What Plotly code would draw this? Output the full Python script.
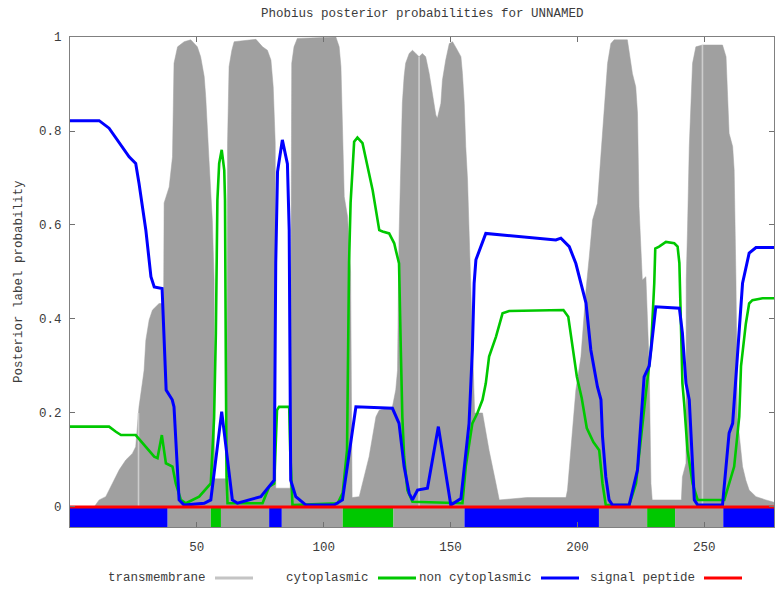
import numpy as np
import plotly.graph_objects as go

# ---- posterior probability profiles (residue position, probability) ----
tm_x = [0, 9.5, 11.5, 14.1, 16.7, 19.4, 22.0, 24.6, 25.9, 27.2, 28.5, 29.2, 29.9, 31.2, 32.5,
        33.8, 35.1, 36.9, 37.1, 39.1, 40.4, 41.0, 42.4, 45.0, 47.6, 50.2, 51.5, 52.9, 53.5,
        54.8, 56.1, 56.8, 57.0, 61.8, 62.1, 62.7, 63.8, 64.7, 73.3, 75.9, 77.8, 79.2, 80.1,
        80.9, 81.1, 86.8, 87.0, 87.4, 88.3, 89.6, 104.8, 106.1, 106.8, 107.4, 108.1, 109.4,
        110.6, 111.2, 114.0, 117.9, 120.6, 121.9, 127.1, 128.4, 129.1, 129.7, 131.0, 131.7,
        132.3, 133.7, 135.0, 136.3, 137.6, 138.9, 140.2, 141.6, 142.9, 144.2, 144.8, 146.2,
        146.8, 148.1, 149.5, 150.8, 152.7, 154.1, 154.7, 155.4, 156.0, 156.7, 157.3, 159.3,
        159.5, 162.6, 165.2, 167.9, 169.2, 180.0, 195.5, 196.1, 197.5, 199.4, 201.4, 203.4,
        204.7, 206.0, 207.9, 209.3, 210.6, 211.9, 213.2, 214.5, 219.7, 220.4, 221.7, 223.0,
        223.7, 224.3, 225.6, 227.0, 228.3, 229.0, 229.5, 241.0, 241.4, 242.8, 242.9, 243.4,
        244.1, 245.4, 246.7, 249.3, 257.2, 258.6, 259.2, 259.8, 261.2, 261.8, 262.5, 263.1,
        265.1, 266.4, 267.7, 270.4, 274.3, 277.5]
tm_y = [0, 0, 0.015, 0.022, 0.05, 0.079, 0.1, 0.114, 0.128, 0.213, 0.263, 0.291, 0.355, 0.398,
        0.419, 0.426, 0.433, 0.433, 0.647, 0.681, 0.745, 0.944, 0.979, 0.99, 0.994, 0.979,
        0.958, 0.916, 0.873, 0.738, 0.61, 0.483, 0.06, 0.06, 0.774, 0.937, 0.972, 0.99, 0.995,
        0.979, 0.972, 0.951, 0.894, 0.774, 0.04, 0.04, 0.483, 0.944, 0.979, 0.997, 1.0, 0.979,
        0.937, 0.802, 0.66, 0.618, 0.5, 0.02, 0.022, 0.107, 0.192, 0.206, 0.213, 0.249, 0.291,
        0.575, 0.859, 0.916, 0.944, 0.965, 0.972, 0.965, 0.958, 0.965, 0.958, 0.922, 0.873,
        0.834, 0.827, 0.859, 0.908, 0.951, 0.986, 0.99, 0.972, 0.958, 0.922, 0.859, 0.767,
        0.696, 0.589, 0.277, 0.2, 0.2, 0.12, 0.05, 0.015, 0.02, 0.02, 0.036, 0.12, 0.249,
        0.32, 0.462, 0.533, 0.611, 0.646, 0.745, 0.838, 0.944, 0.986, 0.994, 0.994, 0.972,
        0.922, 0.894, 0.838, 0.639, 0.483, 0.49, 0.3, 0.05, 0.015, 0.015, 0.064, 0.093, 0.483,
        0.589, 0.767, 0.944, 0.979, 0.983, 0.983, 0.958, 0.873, 0.795, 0.767, 0.717, 0.483,
        0.19, 0.086, 0.057, 0.036, 0.022, 0.015, 0.01]

cyto_x = [0, 15.4, 18.1, 20.1, 25.9, 29.9, 33.2, 34.5, 36.2, 37.8, 40.4, 41.7, 43.7, 45.7,
          50.9, 55.5, 56.8, 57.5, 58.1, 58.8, 59.8, 60.8, 61.1, 61.4, 61.7, 62.1, 75.9, 78.5,
          80.5, 81.6, 82.4, 86.4, 86.8, 87.7, 105.5, 107.5, 109.2, 110.0, 110.6, 112.0, 113.3,
          115.3, 117.3, 119.3, 121.9, 123.2, 125.8, 127.8, 128.4, 129.7, 130.4, 131.0, 131.7,
          133.0, 135.0, 154.7, 156.0, 158.6, 160.6, 162.6, 163.9, 165.2, 167.9, 170.5, 173.1,
          194.5, 196.4, 198.1, 199.8, 201.7, 203.7, 206.3, 208.6, 209.9, 211.2, 220.4, 223.1,
          227.0, 229.0, 230.3, 230.7, 232.2, 234.9, 238.2, 239.5, 240.2, 240.8, 241.4, 242.1,
          243.4, 245.4, 247.4, 257.9, 261.8, 263.8, 264.5, 266.4, 267.7, 269.0, 273.0, 277.5]
cyto_y = [0.171, 0.171, 0.16, 0.153, 0.153, 0.128, 0.107, 0.104, 0.153, 0.093, 0.086, 0.05,
          0.015, 0.008, 0.022, 0.05, 0.19, 0.37, 0.653, 0.731, 0.76, 0.717, 0.653, 0.334, 0.064,
          0.008, 0.008, 0.043, 0.05, 0.206, 0.213, 0.213, 0.12, 0.004, 0.008, 0.03, 0.121, 0.519,
          0.647, 0.777, 0.786, 0.774, 0.724, 0.674, 0.589, 0.586, 0.582, 0.561, 0.547, 0.518,
          0.334, 0.192, 0.107, 0.036, 0.011, 0.008, 0.086, 0.178, 0.2, 0.228, 0.263, 0.32, 0.362,
          0.412, 0.417, 0.419, 0.405, 0.345, 0.277, 0.232, 0.168, 0.138, 0.121, 0.05, 0.004,
          0.004, 0.05, 0.242, 0.334, 0.476, 0.55, 0.554, 0.564, 0.561, 0.554, 0.519, 0.405,
          0.263, 0.22, 0.121, 0.05, 0.015, 0.015, 0.086, 0.192, 0.3, 0.39, 0.433, 0.44, 0.444,
          0.444]

noncyto_x = [0, 11.5, 15.4, 18.1, 20.7, 23.3, 25.9, 27.2, 29.9, 31.9, 33.2, 35.2, 36.3, 37.9,
             40.3, 41.0, 43.0, 45.0, 52.9, 55.5, 59.8, 64.0, 66.0, 75.2, 78.5, 80.5, 81.1, 81.8,
             83.7, 85.7, 86.4, 87.0, 89.0, 93.0, 104.1, 107.4, 112.7, 127.1, 129.7, 131.7, 133.7,
             135.0, 137.0, 140.9, 145.2, 150.1, 154.1, 157.3, 158.6, 159.3, 160.0, 162.6, 163.9,
             191.5, 193.5, 196.8, 199.4, 201.4, 203.4, 205.3, 207.9, 209.3, 209.9, 211.2, 212.5,
             213.8, 220.4, 223.7, 226.3, 228.3, 229.6, 230.9, 240.2, 241.4, 242.8, 244.1, 246.1,
             247.4, 257.2, 259.8, 261.2, 263.1, 265.1, 267.7, 270.4, 277.5]
noncyto_y = [0.822, 0.822, 0.806, 0.785, 0.764, 0.745, 0.731, 0.689, 0.589, 0.49, 0.468, 0.465,
             0.465, 0.249, 0.228, 0.213, 0.015, 0.004, 0.008, 0.015, 0.203, 0.015, 0.008, 0.022,
             0.043, 0.057, 0.519, 0.713, 0.781, 0.73, 0.589, 0.057, 0.022, 0.004, 0.004, 0.015,
             0.213, 0.21, 0.178, 0.086, 0.029, 0.015, 0.036, 0.04, 0.171, 0.004, 0.018, 0.178,
             0.334, 0.476, 0.526, 0.565, 0.582, 0.568, 0.572, 0.554, 0.518, 0.476, 0.434, 0.334,
             0.256, 0.228, 0.15, 0.064, 0.015, 0.004, 0.004, 0.079, 0.277, 0.3, 0.37, 0.426,
             0.423, 0.37, 0.263, 0.228, 0.015, 0.004, 0.004, 0.157, 0.178, 0.334, 0.476, 0.54,
             0.552, 0.552]

signal_x = [0, 277.5]
signal_y = [0, 0]

# ---- predicted topology (segment boundaries along the sequence) ----
seg_start = [0, 38.5, 55.5, 59.5, 78.5, 83.5, 107.5, 127.5, 155.5, 208.5, 227.5, 238.5, 257.5]
seg_end = [38.5, 55.5, 59.5, 78.5, 83.5, 107.5, 127.5, 155.5, 208.5, 227.5, 238.5, 257.5, 277.5]
seg_class = ["non cytoplasmic", "transmembrane", "cytoplasmic", "transmembrane",
             "non cytoplasmic", "transmembrane", "cytoplasmic", "transmembrane",
             "non cytoplasmic", "transmembrane", "cytoplasmic", "transmembrane",
             "non cytoplasmic"]

# light seams in the transmembrane fill
seam_x = [27.0, 137.6, 249.3]

x_ticks = [50, 100, 150, 200, 250]
y_ticks = [0, 0.2, 0.4, 0.6, 0.8, 1]

legend_names = ["transmembrane", "cytoplasmic", "non cytoplasmic", "signal peptide"]

GRAY = "#a0a0a0"
GREEN = "#00c800"
BLUE = "#0000ff"
RED = "#ff0000"
class_color = {"transmembrane": GRAY, "cytoplasmic": GREEN,
               "non cytoplasmic": BLUE, "signal peptide": RED}
legend_line_color = {"transmembrane": "#c4c4c4", "cytoplasmic": GREEN,
                     "non cytoplasmic": BLUE, "signal peptide": RED}

X_MAX = 277.5
Y_MIN = -0.0426
FONT = "Liberation Mono"
TXT = "#3c3c3c"

fig = go.Figure()

# transmembrane posterior as a grey filled area
fig.add_trace(go.Scatter(x=tm_x, y=tm_y, mode="lines", fill="tozeroy",
                         fillcolor=GRAY, line=dict(color=GRAY, width=0.5),
                         name="transmembrane", showlegend=False, hoverinfo="skip"))

# seams: thin light vertical lines up to the transmembrane height
seam_h = np.interp(seam_x, tm_x, tm_y)
sx, sy = [], []
for xv, hv in zip(seam_x, seam_h):
    sx += [xv, xv, None]
    sy += [0, hv, None]
fig.add_trace(go.Scatter(x=sx, y=sy, mode="lines", line=dict(color="#cdcdcd", width=1.6),
                         showlegend=False, hoverinfo="skip"))

# topology strip below zero
for s, e, c in zip(seg_start, seg_end, seg_class):
    fig.add_trace(go.Scatter(x=[s, e, e, s, s], y=[Y_MIN, Y_MIN, 0, 0, Y_MIN],
                             mode="lines", fill="toself", fillcolor=class_color[c],
                             line=dict(width=0, color=class_color[c]),
                             showlegend=False, hoverinfo="skip"))

fig.add_trace(go.Scatter(x=cyto_x, y=cyto_y, mode="lines", name="cytoplasmic",
                         line=dict(color=GREEN, width=2.6), showlegend=False))
fig.add_trace(go.Scatter(x=noncyto_x, y=noncyto_y, mode="lines", name="non cytoplasmic",
                         line=dict(color=BLUE, width=3), showlegend=False))
fig.add_trace(go.Scatter(x=signal_x, y=signal_y, mode="lines", name="signal peptide",
                         line=dict(color=RED, width=3.2), showlegend=False))

W, H = 775, 592
ML, MR, MT, MB = 70, 1, 37, 65
PW, PH = W - ML - MR, H - MT - MB


def px_x(px):
    return (px - ML) / PW


def px_y(py):
    return (H - MB - py) / PH


annotations = [
    dict(text="Phobius posterior probabilities for UNNAMED", x=0.5, y=px_y(14),
         xref="paper", yref="paper", showarrow=False, xanchor="center", yanchor="middle",
         font=dict(family=FONT, size=12.5, color=TXT)),
    dict(text="Posterior label probability", x=px_x(19), y=px_y(282), textangle=-90,
         xref="paper", yref="paper", showarrow=False, xanchor="center", yanchor="middle",
         font=dict(family=FONT, size=12.5, color=TXT)),
]
shapes = []
legend_text_right = [208, 371, 534, 697]
for name, right in zip(legend_names, legend_text_right):
    annotations.append(dict(text=name, x=px_x(right), y=px_y(578), xref="paper", yref="paper",
                            showarrow=False, xanchor="right", yanchor="middle",
                            font=dict(family=FONT, size=12.5, color=TXT)))
    shapes.append(dict(type="line", xref="paper", yref="paper",
                       x0=px_x(right + 7), x1=px_x(right + 45), y0=px_y(578), y1=px_y(578),
                       line=dict(color=legend_line_color[name], width=3)))

fig.update_layout(
    width=W, height=H, margin=dict(l=ML, r=MR, t=MT, b=MB),
    paper_bgcolor="white", plot_bgcolor="white",
    showlegend=False,
    annotations=annotations, shapes=shapes,
    xaxis=dict(range=[0, X_MAX], tickvals=x_ticks, ticks="inside", ticklen=5,
               tickcolor="#707070", showline=True, linecolor="#808080", linewidth=1,
               mirror="ticks", showgrid=False, zeroline=False, ticklabelstandoff=8,
               tickfont=dict(family=FONT, size=12.5, color=TXT)),
    yaxis=dict(range=[Y_MIN, 1], tickvals=y_ticks, ticktext=[str(v) for v in y_ticks],
               ticks="inside", ticklen=5, tickcolor="#707070", showline=True,
               linecolor="#808080", linewidth=1, mirror="ticks", showgrid=False,
               zeroline=False, ticklabelstandoff=5,
               tickfont=dict(family=FONT, size=12.5, color=TXT)),
)

fig.write_html("out.html")
